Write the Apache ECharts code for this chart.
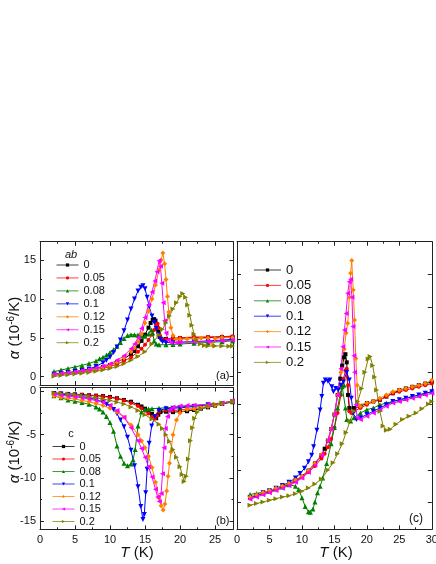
<!DOCTYPE html>
<html>
<head>
<meta charset="utf-8">
<script src="https://cdn.jsdelivr.net/npm/echarts@6/dist/echarts.min.js"></script>
<style>
  html, body { margin: 0; padding: 0; background: #fff; }
  #chart { width: 436px; height: 564px; }
</style>
</head>
<body>
<div id="chart"></div>
<script>
// doping levels shown in every legend
const CONC = ['0', '0.05', '0.08', '0.1', '0.12', '0.15', '0.2']

// panel (a): alpha_ab, [T (K), alpha (1e-6/K)]
const a0 = [[2,0.3],[3,0.4],[4,0.5],[5,0.6],[6,0.75],[7,0.9],[8,1.05],[9,1.25],[10,1.5],[11,1.9],[12,2.3],[13,2.9],[13.5,3.3],[14,3.9],[14.5,4.6],[15,5.4],[15.5,6.3],[15.8,6.9],[16.1,7.3],[16.3,7.4],[16.5,7.2],[16.7,6.6],[16.9,5.8],[17.1,5.1],[17.4,4.8],[18,4.85],[19,4.9],[20,4.95],[22,5.0],[24,5.05],[26,5.1],[27.5,5.1]]
const a005 = [[2,0.2],[3,0.3],[4,0.4],[5,0.5],[6,0.6],[7,0.75],[8,0.9],[9,1.1],[10,1.3],[11,1.6],[12,2.0],[13,2.5],[14,3.2],[14.5,3.6],[15,4.1],[15.5,4.7],[16,5.4],[16.3,6.0],[16.6,6.6],[16.8,6.8],[16.9,6.3],[17.1,5.4],[17.3,4.9],[17.6,4.7],[18,4.8],[19,4.9],[20,5.0],[22,5.1],[24,5.1],[26,5.15],[27.5,5.2]]
const a008 = [[2,0.65],[3,0.85],[4,1.05],[5,1.25],[6,1.45],[7,1.7],[8,2.0],[8.5,2.3],[9,2.5],[9.5,2.8],[10,3.1],[10.5,3.45],[11,3.9],[11.5,4.4],[12,4.9],[12.5,5.3],[13,5.4],[13.5,5.4],[14,5.35],[14.5,5.2],[15,5.2],[15.5,5.5],[15.9,6.0],[16.1,5.6],[16.3,4.6],[16.6,4.2],[17,4.1],[18,4.1],[19,4.15],[20,4.2],[22,4.3],[24,4.4],[26,4.5],[27.5,4.6]]
const a01 = [[2,0.3],[3,0.4],[4,0.5],[5,0.65],[6,0.8],[7,1.0],[8,1.3],[9,1.8],[9.5,2.1],[10,2.5],[10.5,3.1],[11,3.8],[11.5,4.7],[12,5.9],[12.5,7.3],[13,8.7],[13.5,10.0],[14,11.0],[14.4,11.5],[14.7,11.7],[15,11.3],[15.3,10.2],[15.6,9.0],[16,7.8],[16.3,7.0],[16.6,6.2],[16.9,5.4],[17.2,4.8],[17.5,4.5],[18,4.4],[19,4.4],[20,4.45],[22,4.5],[24,4.6],[26,4.7],[27.5,4.8]]
const a012 = [[2,0.25],[3,0.35],[4,0.45],[5,0.55],[6,0.7],[7,0.85],[8,1.0],[9,1.2],[10,1.45],[11,1.85],[12,2.4],[13,3.2],[13.5,3.7],[14,4.5],[14.5,5.5],[15,6.9],[15.5,8.4],[16,10.0],[16.5,11.8],[17,13.7],[17.3,15.0],[17.55,15.9],[17.8,14.5],[18,12.5],[18.2,10.3],[18.4,8.3],[18.7,6.3],[19,5.3],[19.4,4.8],[20,4.8],[21,4.85],[22,4.9],[23,4.95],[24,4.95],[24.7,4.0],[25,4.9],[26,5.0],[27.5,5.0]]
const a015 = [[2,0.3],[3,0.4],[4,0.5],[5,0.6],[6,0.75],[7,0.9],[8,1.1],[9,1.35],[10,1.65],[11,2.1],[12,2.7],[13,3.6],[13.5,4.2],[14,5.0],[14.5,6.2],[15,7.6],[15.5,9.2],[16,10.9],[16.4,12.3],[16.7,13.5],[17,14.9],[17.2,14.2],[17.4,12.0],[17.6,9.5],[17.8,7.2],[18,5.6],[18.3,4.7],[18.7,4.35],[19.5,4.35],[20,4.4],[22,4.45],[24,4.5],[26,4.6],[27.5,4.7]]
const a02 = [[2,0.05],[3,0.15],[4,0.25],[5,0.35],[6,0.45],[7,0.55],[8,0.7],[9,0.85],[10,1.05],[11,1.3],[12,1.65],[13,2.1],[14,2.6],[15,3.2],[16,4.2],[17,5.4],[17.5,6.1],[18,6.9],[18.5,7.8],[19,8.7],[19.5,9.5],[20,10.3],[20.4,10.7],[20.8,10.2],[21.1,9.2],[21.4,7.9],[21.7,6.6],[22,5.5],[22.4,4.7],[22.9,4.2],[23.5,4.0],[24,3.95],[25,3.95],[26,3.95],[27,3.9],[27.5,3.95]]

// panel (b): alpha_c
const b0 = [[2,-0.2],[3,-0.25],[4,-0.3],[5,-0.35],[6,-0.4],[7,-0.45],[8,-0.5],[9,-0.55],[10,-0.65],[11,-0.8],[12,-1.0],[13,-1.2],[14,-1.55],[14.5,-1.75],[15,-2.0],[15.5,-2.3],[16,-2.6],[16.6,-3.1],[16.9,-2.7],[17.2,-2.4],[18,-2.35],[19,-2.4],[20,-2.35],[21,-2.3],[22,-2.15],[23,-2.0],[24,-1.85],[25,-1.65],[26,-1.45],[27.5,-1.2]]
const b005 = [[2,-0.2],[3,-0.25],[4,-0.3],[5,-0.35],[6,-0.4],[7,-0.45],[8,-0.5],[9,-0.6],[10,-0.7],[11,-0.85],[12,-1.05],[13,-1.35],[14,-1.7],[14.5,-1.95],[15,-2.25],[15.5,-2.55],[16,-2.9],[16.4,-3.15],[16.7,-2.8],[17,-2.35],[18,-2.2],[19,-2.2],[20,-2.15],[21,-2.1],[22,-2.0],[23,-1.9],[24,-1.75],[25,-1.6],[26,-1.45],[27.5,-1.25]]
const b008 = [[2,-0.5],[3,-0.75],[4,-1.0],[5,-1.15],[6,-1.3],[7,-1.5],[8,-1.8],[8.5,-2.05],[9,-2.4],[9.5,-2.9],[10,-3.6],[10.5,-4.6],[11,-6.3],[11.5,-7.5],[12,-8.3],[12.5,-8.6],[13,-8.4],[13.3,-7.9],[13.6,-6.7],[14,-4.0],[14.5,-2.4],[15,-2.1],[15.5,-2.05],[16,-2.0],[17,-1.95],[18,-1.9],[20,-1.8],[22,-1.65],[24,-1.5],[26,-1.35],[27.5,-1.2]]
const b01 = [[2,-0.3],[3,-0.35],[4,-0.4],[5,-0.5],[6,-0.6],[7,-0.75],[8,-0.95],[9,-1.25],[9.5,-1.5],[10,-1.75],[10.5,-2.1],[11,-2.6],[11.5,-3.3],[12,-4.1],[12.5,-5.3],[13,-6.8],[13.5,-8.6],[14,-11.0],[14.4,-13.3],[14.7,-14.8],[14.9,-14.2],[15.1,-11.7],[15.3,-9.0],[15.6,-6.0],[15.95,-4.0],[16.4,-2.9],[17,-2.2],[18,-2.0],[19,-1.95],[20,-1.9],[22,-1.75],[24,-1.55],[26,-1.4],[27.5,-1.2]]
const b012 = [[2,-0.55],[3,-0.7],[4,-0.8],[5,-0.9],[6,-1.05],[7,-1.2],[8,-1.4],[9,-1.65],[10,-1.95],[11,-2.4],[12,-3.0],[13,-3.9],[14,-5.0],[14.5,-5.7],[15,-6.5],[15.5,-7.5],[16,-8.8],[16.5,-10.5],[17,-12.3],[17.3,-13.2],[17.6,-13.7],[17.85,-13.0],[18.1,-11.5],[18.3,-9.8],[18.5,-8.3],[18.7,-7.0],[19,-5.0],[19.5,-3.3],[20,-2.5],[21,-2.1],[22,-2.0],[23,-1.9],[24,-1.75],[25,-1.6],[26,-1.4],[27.5,-1.15]]
const b015 = [[2,-0.35],[3,-0.45],[4,-0.55],[5,-0.65],[6,-0.75],[7,-0.9],[8,-1.05],[9,-1.25],[10,-1.6],[11,-2.2],[12,-3.0],[13,-4.2],[14,-5.7],[14.5,-6.6],[15,-7.6],[15.5,-8.7],[16,-9.9],[16.5,-11.3],[16.8,-12.2],[17.05,-12.7],[17.3,-11.8],[17.5,-9.5],[17.7,-6.5],[17.9,-4.3],[18.2,-2.9],[18.6,-2.1],[19,-1.85],[20,-1.7],[21,-1.65],[22,-1.6],[24,-1.5],[26,-1.35],[27.5,-1.1]]
const b02 = [[2,-0.2],[3,-0.25],[4,-0.3],[5,-0.4],[6,-0.5],[7,-0.6],[8,-0.75],[9,-0.9],[10,-1.05],[11,-1.25],[12,-1.45],[13,-1.8],[14,-2.2],[15,-2.7],[16,-3.2],[17,-3.8],[17.5,-4.3],[18,-5.0],[18.5,-5.8],[19,-6.7],[19.5,-7.6],[20,-8.7],[20.3,-9.6],[20.6,-10.4],[20.9,-9.8],[21.2,-7.8],[21.5,-5.7],[21.8,-4.2],[22.1,-3.1],[22.5,-2.4],[23,-2.0],[24,-1.7],[25,-1.5],[26,-1.35],[27.5,-1.15]]

// panel (c): unlabelled y scale, one tick = one unit
const c0 = [[2,0.15],[3,0.22],[4,0.3],[5,0.35],[6,0.42],[7,0.5],[8,0.58],[9,0.68],[10,0.8],[11,0.98],[12,1.2],[13,1.45],[13.5,1.65],[14,1.9],[14.5,2.25],[15,2.7],[15.5,3.3],[15.9,3.8],[16.2,4.2],[16.5,4.45],[16.7,4.55],[16.9,4.3],[17.1,3.3],[17.3,2.9],[18,2.9],[19,2.95],[20,3.05],[21,3.1],[22,3.15],[23,3.25],[24,3.35],[25,3.45],[26,3.5],[27,3.55],[28,3.6],[29,3.65],[30,3.7]]
const c005 = [[2,0.13],[3,0.2],[4,0.27],[5,0.33],[6,0.4],[7,0.47],[8,0.55],[9,0.65],[10,0.77],[11,0.93],[12,1.12],[13,1.35],[13.5,1.5],[14,1.7],[14.5,1.95],[15,2.3],[15.5,2.75],[16,3.3],[16.4,3.8],[16.7,4.05],[16.9,4.1],[17.1,3.6],[17.3,2.8],[17.6,2.75],[18,2.8],[19,2.9],[20,3.0],[21,3.1],[22,3.15],[23,3.25],[24,3.35],[25,3.4],[26,3.45],[27,3.5],[28,3.55],[29,3.6],[30,3.65]]
const c008 = [[2,0.25],[3,0.28],[4,0.32],[5,0.36],[6,0.42],[7,0.48],[8,0.55],[9,0.5],[9.5,0.4],[10,0.15],[10.5,-0.12],[11,-0.28],[11.3,-0.3],[11.7,-0.2],[12,0.02],[12.4,0.3],[12.8,0.5],[13.2,0.75],[13.8,1.2],[14.5,1.8],[15,2.3],[15.5,2.9],[15.9,3.35],[16.2,3.55],[16.5,3.6],[16.7,2.9],[16.9,2.55],[17.5,2.5],[18,2.6],[19,2.75],[20,2.85],[21,2.9],[22,3.0],[23,3.05],[24,3.1],[25,3.15],[26,3.2],[27,3.25],[28,3.3],[29,3.35],[30,3.4]]
const c01 = [[2,0.15],[3,0.22],[4,0.3],[5,0.36],[6,0.44],[7,0.52],[8,0.62],[9,0.75],[9.7,0.89],[10.4,1.05],[11,1.25],[11.5,1.45],[11.8,1.71],[12.3,2.22],[12.8,2.84],[13.06,3.25],[13.3,3.66],[13.6,3.76],[14,3.72],[14.3,3.76],[14.6,3.55],[14.85,3.4],[15.2,3.5],[15.6,3.45],[16,3.6],[16.4,3.7],[16.9,4.0],[17.3,3.76],[17.6,3.2],[17.9,2.74],[18.4,2.55],[19,2.6],[20,2.7],[21,2.8],[22,2.9],[23,3.0],[24,3.1],[25,3.15],[26,3.2],[27,3.25],[28,3.3],[29,3.35],[30,3.4]]
const c012 = [[2,0.17],[3,0.24],[4,0.31],[5,0.37],[6,0.44],[7,0.51],[8,0.59],[9,0.69],[10,0.81],[11,0.98],[12,1.2],[13,1.47],[14,1.9],[14.5,2.25],[15,2.7],[15.5,3.3],[16,4.0],[16.5,4.7],[16.8,5.2],[17.05,5.5],[17.3,6.3],[17.5,7.03],[17.67,7.42],[17.9,6.52],[18.1,5.6],[18.3,4.42],[18.5,3.6],[18.7,3.0],[19,2.95],[20,3.05],[21,3.1],[22,3.2],[23,3.3],[24,3.4],[25,3.45],[26,3.5],[27,3.55],[28,3.6],[29,3.65],[30,3.75]]
const c015 = [[2,0.1],[3,0.17],[4,0.24],[5,0.3],[6,0.37],[7,0.44],[8,0.52],[9,0.62],[10,0.75],[11,0.93],[12,1.15],[13,1.45],[14,1.9],[14.5,2.25],[15,2.7],[15.5,3.3],[16,4.1],[16.3,4.78],[16.55,5.29],[16.8,5.8],[17.05,6.42],[17.3,6.77],[17.5,6.85],[17.7,6.3],[17.85,5.4],[18,4.5],[18.1,4.0],[18.3,3.0],[18.5,2.6],[19,2.55],[20,2.65],[21,2.75],[22,2.85],[23,2.95],[24,3.05],[25,3.1],[26,3.15],[27,3.2],[28,3.25],[29,3.3],[30,3.35]]
const c02 = [[2,-0.08],[3,-0.03],[4,0.02],[5,0.07],[6,0.12],[7,0.17],[8,0.21],[9,0.27],[10,0.35],[11,0.45],[12,0.57],[13,0.72],[14,1.0],[14.8,1.22],[15.5,1.5],[16.2,1.8],[16.8,2.15],[17.4,2.5],[18,2.8],[18.6,3.1],[19.2,3.5],[19.7,4.0],[20.2,4.4],[20.5,4.48],[20.9,4.2],[21.2,3.85],[21.5,3.45],[22,2.8],[22.5,2.35],[23,2.22],[23.6,2.25],[24.5,2.4],[25.5,2.55],[26.5,2.65],[27.6,2.75],[28.5,2.88],[29.5,3.02],[30,3.1]]

// tick positions
const X_MAJOR_AB = [0, 5, 10, 15, 20, 25]
const X_MINOR_AB = [2.5, 7.5, 12.5, 17.5, 22.5]
const X_MAJOR_C = [0, 5, 10, 15, 20, 25, 30]
const X_MINOR_C = [2.5, 7.5, 12.5, 17.5, 22.5, 27.5]
const Y_MAJOR_A = [0, 5, 10, 15]
const Y_MINOR_A = [2.5, 7.5, 12.5]
const Y_MAJOR_B = [0, -5, -10, -15]
const Y_MINOR_B = [-2.5, -7.5, -12.5]
const Y_MAJOR_C = [0, 1, 2, 3, 4, 5, 6, 7]

const PANELS = [
  [a0, a005, a008, a01, a012, a015, a02],
  [b0, b005, b008, b01, b012, b015, b02],
  [c0, c005, c008, c01, c012, c015, c02],
]

const COLORS = ['#000000', '#ff0000', '#008000', '#0000ff', '#ff8000', '#ff00ff', '#808000']
const SYMBOLS = ['rect', 'circle', 'triangle', 'triangle', 'diamond', 'triangle', 'triangle']
const ROTATES = [0, 0, 0, 180, 0, 90, -90]
const FONT = '"Liberation Sans", Arial, sans-serif'
const FRAME = '#222'

function axis(grid, min, max, pos, values, len, labels) {
  return {
    type: 'value',
    gridIndex: grid,
    min,
    max,
    position: pos,
    axisLine: { show: len > 2, onZero: false, lineStyle: { color: FRAME, width: 1 } },
    axisTick: { show: true, inside: true, length: len, customValues: values, lineStyle: { color: FRAME, width: 1 } },
    axisLabel: labels
      ? { show: true, customValues: values, margin: pos === 'left' ? 4 : 5, color: '#111', fontSize: 11, fontFamily: FONT }
      : { show: false },
    splitLine: { show: false },
  }
}

const xAxes = []
const yAxes = []
function frame(grid, xr, xMaj, xMin, yr, yMaj, yMin, xLab, yLab) {
  xAxes.push(axis(grid, xr[0], xr[1], 'bottom', xMaj, 4, xLab))
  const xi = xAxes.length - 1
  xAxes.push(axis(grid, xr[0], xr[1], 'bottom', xMin, 2, false))
  xAxes.push(axis(grid, xr[0], xr[1], 'top', xMaj, 4, false))
  xAxes.push(axis(grid, xr[0], xr[1], 'top', xMin, 2, false))
  yAxes.push(axis(grid, yr[0], yr[1], 'left', yMaj, 4, yLab))
  const yi = yAxes.length - 1
  yAxes.push(axis(grid, yr[0], yr[1], 'left', yMin, 2, false))
  yAxes.push(axis(grid, yr[0], yr[1], 'right', yMaj, 4, false))
  yAxes.push(axis(grid, yr[0], yr[1], 'right', yMin, 2, false))
  return [xi, yi]
}

const idx = [
  frame(0, [0, 27.64], X_MAJOR_AB, X_MINOR_AB, [-1.07, 17.35], Y_MAJOR_A, Y_MINOR_A, false, true),
  frame(1, [0, 27.64], X_MAJOR_AB, X_MINOR_AB, [-15.92, 0.44], Y_MAJOR_B, Y_MINOR_B, true, true),
  frame(2, [0, 30], X_MAJOR_C, X_MINOR_C, [-0.82, 8.0], Y_MAJOR_C, [], true, false),
]

const series = []
PANELS.forEach((sets, p) => {
  sets.forEach((data, k) => {
    series.push({
      type: 'line',
      name: CONC[k],
      xAxisIndex: idx[p][0],
      yAxisIndex: idx[p][1],
      data,
      symbol: SYMBOLS[k],
      symbolRotate: ROTATES[k],
      symbolSize: k < 2 ? 4 : 5,
      lineStyle: { color: COLORS[k], width: 1 },
      itemStyle: { color: COLORS[k] },
      emphasis: { disabled: true },
    })
  })
})

function legend(left, top, width, size, gap) {
  return {
    data: CONC,
    orient: 'vertical',
    left,
    top,
    padding: 0,
    itemWidth: width,
    itemHeight: 4,
    itemGap: gap,
    selectedMode: false,
    lineStyle: { width: 1, opacity: 0.75 },
    textStyle: { color: '#111', fontSize: size, lineHeight: size, fontFamily: FONT },
  }
}

function label(x, y, text, opts) {
  return {
    type: 'text',
    x,
    y,
    rotation: opts.rotation || 0,
    style: {
      text,
      fill: '#111',
      fontSize: opts.size || 11,
      fontFamily: FONT,
      fontStyle: opts.italic ? 'italic' : 'normal',
      align: opts.align || 'center',
      verticalAlign: 'middle',
      rich: opts.rich,
    },
  }
}

const axisRich = {
  i: { fontStyle: 'italic', fontSize: 15, fontFamily: FONT, lineHeight: 17 },
  n: { fontSize: 15, fontFamily: FONT, lineHeight: 17 },
  s: { fontSize: 10, fontFamily: FONT, lineHeight: 10, verticalAlign: 'top' },
}

const chart = echarts.init(document.getElementById('chart'), null, { renderer: 'canvas' })
chart.setOption({
  animation: false,
  backgroundColor: '#fff',
  grid: [
    { left: 40, top: 241.7, width: 193.5, height: 143.3, outerBoundsMode: 'none' },
    { left: 40, top: 387.5, width: 193.5, height: 141.8, outerBoundsMode: 'none' },
    { left: 237, top: 241.7, width: 194.8, height: 287.6, outerBoundsMode: 'none' },
  ],
  xAxis: xAxes,
  yAxis: yAxes,
  legend: [
    legend(56, 259.5, 22, 11, 1.95),
    legend(52, 441, 22, 11, 1.5),
    legend(253.5, 263.5, 27, 13, 2.4),
  ],
  series,
  graphic: [
    label(15, 328, '{i|α}{n| (10}{s|-6}{n|/K)}', { rotation: Math.PI / 2, rich: axisRich }),
    label(15, 452, '{i|α}{n| (10}{s|-6}{n|/K)}', { rotation: Math.PI / 2, rich: axisRich }),
    label(137, 552.7, '{i|T}{n| (K)}', { rich: axisRich }),
    label(336, 553, '{i|T}{n| (K)}', { rich: axisRich }),
    label(71, 255, 'ab', { italic: true }),
    label(71, 434, 'c', {}),
    label(229.5, 375.7, '(a)', { align: 'right' }),
    label(229.5, 521, '(b)', { align: 'right' }),
    label(423, 518.5, '(c)', { align: 'right', size: 12 }),
  ],
})
</script>
</body>
</html>
